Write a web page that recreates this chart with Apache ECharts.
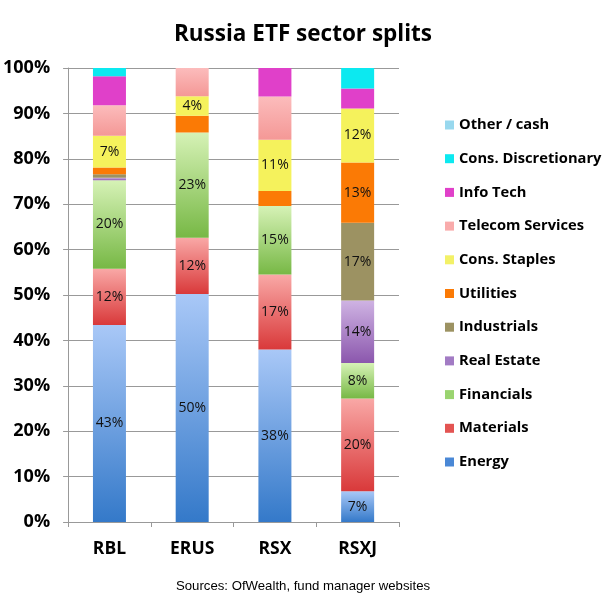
<!DOCTYPE html>
<html>
<head>
<meta charset="utf-8">
<script src="https://cdn.jsdelivr.net/npm/echarts@6/dist/echarts.min.js"></script>
<style>
html,body{margin:0;padding:0;background:#fff;}
#chart{width:606px;height:598px;}
</style>
</head>
<body>
<div id="chart"></div>
<script>
var categories = ['RBL', 'ERUS', 'RSX', 'RSXJ'];
var yTicks = ['0%','10%','20%','30%','40%','50%','60%','70%','80%','90%','100%'];

var energy      = [43.4, 50.2, 38.0, 6.8];
var materials   = [12.4, 12.4, 16.5, 20.4];
var financials  = [19.5, 23.2, 15.1, 7.8];
var realEstate  = [0.5, 0, 0, 13.8];
var industrials = [0.8, 0, 0, 17.1];
var utilities   = [1.5, 3.7, 3.3, 13.3];
var consStaples = [7.0, 4.3, 11.3, 11.9];
var telecom     = [6.7, 6.2, 9.5, 0];
var infoTech    = [6.4, 0, 6.3, 4.4];
var consDisc    = [1.8, 0, 0, 4.5];
var otherCash   = [0, 0, 0, 0];

// which bars carry a value label (category indices)
var labelled = {
  'Energy': [0,1,2,3],
  'Materials': [0,1,2,3],
  'Financials': [0,1,2,3],
  'Real Estate': [3],
  'Industrials': [3],
  'Utilities': [3],
  'Cons. Staples': [0,1,2,3]
};

function grad(top, bottom) {
  return new echarts.graphic.LinearGradient(0, 0, 0, 1, [
    {offset: 0, color: top}, {offset: 1, color: bottom}
  ]);
}

var seriesDefs = [
  {name: 'Energy', data: energy, color: grad('#a9c8f7', '#3479c9'), legend: '#4a88d6'},
  {name: 'Materials', data: materials, color: grad('#f9a8a6', '#d9393a'), legend: '#e35452'},
  {name: 'Financials', data: financials, color: grad('#d6f2b6', '#77b845'), legend: '#9ad470'},
  {name: 'Real Estate', data: realEstate, color: grad('#cfb3e3', '#8b57ad'), legend: '#a27bc4'},
  {name: 'Industrials', data: industrials, color: '#9c9262', legend: '#9c9262'},
  {name: 'Utilities', data: utilities, color: '#fb7a05', legend: '#fb7a05'},
  {name: 'Cons. Staples', data: consStaples, color: '#f5f25c', legend: '#f3f167'},
  {name: 'Telecom Services', data: telecom, color: grad('#fcbcbc', '#f49896'), legend: '#f9abab'},
  {name: 'Info Tech', data: infoTech, color: '#e040c9', legend: '#e040c9'},
  {name: 'Cons. Discretionary', data: consDisc, color: '#0ce9f0', legend: '#0ce9f0'},
  {name: 'Other / cash', data: otherCash, color: '#98d8ee', legend: '#98d8ee'}
];

var series = seriesDefs.map(function (d) {
  var show = labelled[d.name] || [];
  return {
    name: d.name,
    type: 'bar',
    stack: 'all',
    barWidth: 33,
    itemStyle: {color: d.color},
    data: d.data.map(function (v, i) {
      return {
        value: v,
        label: {
          show: show.indexOf(i) >= 0,
          position: 'inside',
          formatter: function (p) { return Math.round(p.value) + '%'; },
          color: '#111',
          fontSize: 14,
          fontFamily: 'Open Sans'
        }
      };
    })
  };
});

var chart = echarts.init(document.getElementById('chart'), null, {renderer: 'canvas'});
chart.setOption({
  animation: false,
  backgroundColor: '#fff',
  title: {
    text: 'Russia ETF sector splits',
    left: 'center',
    top: 18,
    textStyle: {fontFamily: 'Open Sans', fontWeight: 'bold', fontSize: 22.5, color: '#000'}
  },
  graphic: [{
    type: 'text',
    left: 'center',
    top: 580,
    style: {
      text: 'Sources: OfWealth, fund manager websites',
      font: '13.2px "Liberation Sans", Arial, sans-serif',
      fill: '#000'
    }
  }],
  legend: {
    orient: 'vertical',
    left: 440,
    top: 112,
    itemWidth: 9,
    itemHeight: 9,
    itemGap: 17.7,
    icon: 'rect',
    data: seriesDefs.slice().reverse().map(function (d) {
      return {name: d.name, itemStyle: {color: d.legend}};
    }),
    textStyle: {fontFamily: 'Open Sans', fontWeight: 'bold', fontSize: 14.7, color: '#000', lineHeight: 16}
  },
  grid: {left: 68, right: 207, top: 68, bottom: 76, containLabel: false},
  xAxis: {
    type: 'category',
    data: categories,
    axisLine: {lineStyle: {color: '#999', width: 1}},
    axisTick: {show: true, length: 5, lineStyle: {color: '#999'}},
    axisLabel: {fontFamily: 'Open Sans', fontWeight: 'bold', fontSize: 17.5, color: '#000', margin: 18}
  },
  yAxis: {
    type: 'value',
    min: 0,
    max: 100,
    interval: 10,
    axisLine: {show: true, lineStyle: {color: '#999', width: 1}},
    axisTick: {show: true, length: 5, inside: false, lineStyle: {color: '#999'}},
    splitLine: {lineStyle: {color: '#999', width: 1}},
    axisLabel: {
      fontFamily: 'Open Sans', fontWeight: 'bold', fontSize: 18, color: '#000', margin: 18,
      formatter: function (v) { return yTicks[Math.round(v / 10)]; }
    }
  },
  series: series
});
</script>
</body>
</html>
